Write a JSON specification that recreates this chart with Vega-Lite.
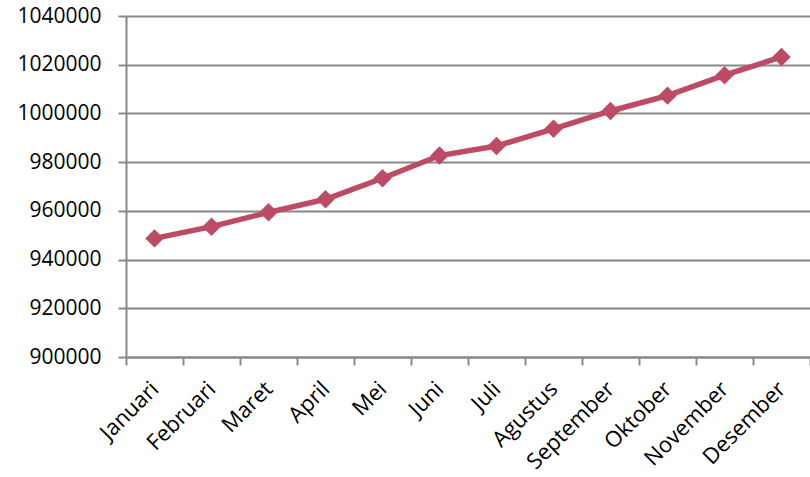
{
  "$schema": "https://vega.github.io/schema/vega-lite/v6.json",
  "autosize": "none",
  "width": 684,
  "height": 341,
  "padding": {"left": 126, "top": 16, "right": 0, "bottom": 120},
  "background": "white",
  "config": {"view": {"stroke": null}, "font": "Open Sans"},
  "data": {"values": [
    {"bulan": "Januari", "nilai": 948700},
    {"bulan": "Februari", "nilai": 953500},
    {"bulan": "Maret", "nilai": 959400},
    {"bulan": "April", "nilai": 964750},
    {"bulan": "Mei", "nilai": 973400},
    {"bulan": "Juni", "nilai": 982700},
    {"bulan": "Juli", "nilai": 986600},
    {"bulan": "Agustus", "nilai": 993700},
    {"bulan": "September", "nilai": 1001000},
    {"bulan": "Oktober", "nilai": 1007300},
    {"bulan": "November", "nilai": 1015700},
    {"bulan": "Desember", "nilai": 1023200}
  ]},
  "mark": {"type": "line", "color": "#BE4B66", "strokeWidth": 5.5, "point": {"shape": "diamond", "size": 340, "filled": true, "color": "#BE4B66", "opacity": 1}},
  "encoding": {
    "x": {
      "field": "bulan", "type": "ordinal", "sort": null,
      "scale": {"type": "band", "paddingInner": 0, "paddingOuter": 0},
      "axis": {
        "title": null, "labelAngle": -45, "labelAlign": "right", "labelBaseline": "middle",
        "labelFontSize": 22, "labelColor": "#000", "labelPadding": 20,
        "tickBand": "extent", "ticks": true, "tickSize": 8, "tickColor": "#888", "tickWidth": 2,
        "domain": true, "domainColor": "#888", "domainWidth": 2, "grid": false
      }
    },
    "y": {
      "field": "nilai", "type": "quantitative",
      "scale": {"domain": [900000, 1040000], "nice": false, "zero": false},
      "axis": {
        "title": null, "values": [900000, 920000, 940000, 960000, 980000, 1000000, 1020000, 1040000],
        "format": "d", "labelFontSize": 21, "labelColor": "#000", "labelPadding": 17,
        "tickSize": 8, "tickColor": "#888", "tickWidth": 2,
        "domain": true, "domainColor": "#888", "domainWidth": 2,
        "grid": true, "gridColor": "#888", "gridWidth": 2, "gridOpacity": 1
      }
    }
  }
}
